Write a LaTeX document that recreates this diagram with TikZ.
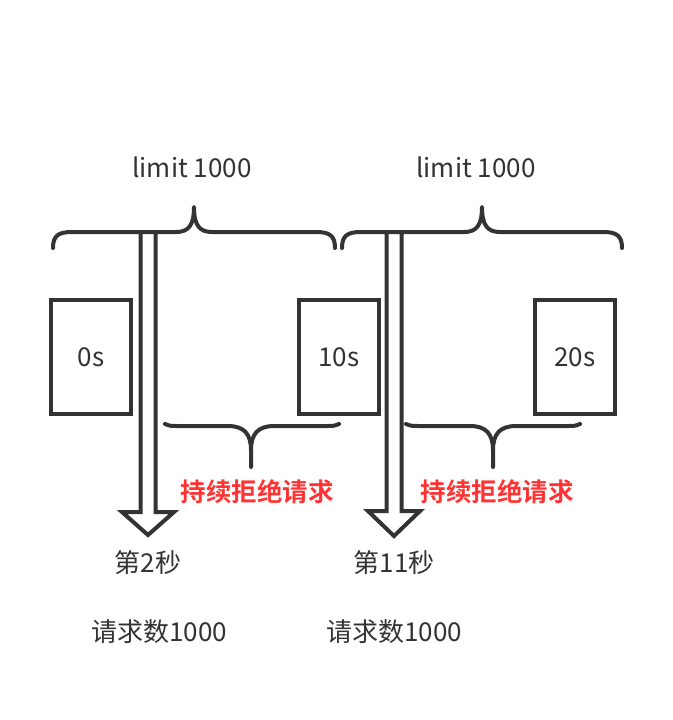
\documentclass[tikz,border=0pt]{standalone}
\usepackage{fontspec}
\setmainfont{Noto Sans CJK SC}
\newfontfamily\cjkbold{Noto Sans CJK SC Bold}
\usepackage{xcolor}
\definecolor{LineGray}{HTML}{333333}
\definecolor{RejectRed}{HTML}{FF3333}
\usetikzlibrary{positioning}

\begin{document}
\begin{tikzpicture}[
    x=1pt, y=-1pt,
    winbox/.style={
        draw=LineGray,
        line width=4pt,
        minimum width=80pt,
        minimum height=114pt,
        inner sep=0pt,
        text=LineGray,
        font=\fontsize{26}{30}\selectfont
    },
    lbl/.style={
        text=LineGray,
        inner sep=0pt,
        font=\fontsize{26}{30}\selectfont
    },
    rej/.style={
        text=RejectRed,
        inner sep=0pt,
        font=\cjkbold\fontsize{25.5}{30}\selectfont
    },
    brc/.style={
        draw=LineGray,
        line width=4pt,
        line cap=round,
        line join=round
    },
    blk/.style={
        draw=LineGray,
        line width=4pt,
        line join=miter
    }
]
\useasboundingbox (0,0) rectangle (672,720);

% ---------------------------------------------------------
% Finestre temporali
% ---------------------------------------------------------

\node[winbox] (w0)  at (91,357)  {0s};
\node[winbox] (w10) at (339,357) {10s};
\node[winbox] (w20) at (575,357) {20s};

\node[lbl] (lim1) at (192,167) {limit 1000};
\node[lbl] (lim2) at (476,167) {limit 1000};

% ---------------------------------------------------------
% Graffe superiori
% ---------------------------------------------------------

\draw[brc]
(53,248) .. controls (53,236) and (58,232) .. (72,232)
-- (176,232) .. controls (188,232) and (194,226) .. (194,207)
.. controls (194,226) and (200,232) .. (212,232)
-- (316,232) .. controls (330,232) and (335,236) .. (335,248);

\draw[brc]
(342,248) .. controls (342,236) and (347,232) .. (361,232)
-- (464,232) .. controls (476,232) and (482,226) .. (482,207)
.. controls (482,226) and (488,232) .. (500,232)
-- (603,232) .. controls (617,232) and (622,236) .. (622,248);

% ---------------------------------------------------------
% Frecce delle richieste
% ---------------------------------------------------------

\draw[blk]
(140.5,232) -- (140.5,512) -- (122,512) -- (148,535)
-- (174,512) -- (155.5,512) -- (155.5,232);

\draw[blk]
(386.5,232) -- (386.5,511) -- (368,511) -- (394,536)
-- (420,511) -- (401.5,511) -- (401.5,232);

% ---------------------------------------------------------
% Graffe inferiori
% ---------------------------------------------------------

\draw[brc]
(165,424) .. controls (170,426) .. (180,426)
-- (228,426) .. controls (244,426) and (251,434) .. (251,450)
-- (251,467) -- (251,450)
.. controls (251,434) and (258,426) .. (274,426)
-- (324,426) .. controls (334,426) .. (339,424);

\draw[brc]
(406,424) .. controls (411,426) .. (421,426)
-- (470,426) .. controls (486,426) and (493,434) .. (493,450)
-- (493,467) -- (493,450)
.. controls (493,434) and (500,426) .. (516,426)
-- (565,426) .. controls (575,426) .. (580,424);

\node[rej] (rej1) at (257,492) {持续拒绝请求};
\node[rej] (rej2) at (497,492) {持续拒绝请求};

% ---------------------------------------------------------
% Etichette in basso
% ---------------------------------------------------------

\node[lbl] (sec2)  at (148,563) {第2秒};
\node[lbl] (sec11) at (394,563) {第11秒};

\node[lbl] (req1) at (159,632) {请求数1000};
\node[lbl] (req2) at (394,632) {请求数1000};

\end{tikzpicture}
\end{document}
